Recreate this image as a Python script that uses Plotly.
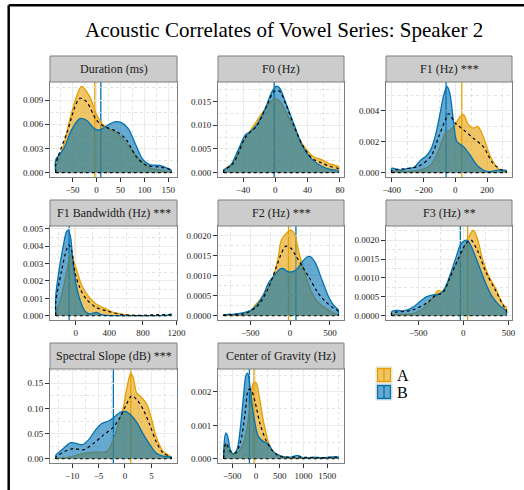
import plotly.graph_objects as go

# ---------------- data ----------------
PANEL_TITLES = ["Duration (ms)", "F0 (Hz)", "F1 (Hz) ***",
                "F1 Bandwidth (Hz) ***", "F2 (Hz) ***", "F3 (Hz) **",
                "Spectral Slope (dB) ***", "Center of Gravity (Hz)"]
GROUPS = ["A", "B"]

# Duration
DUR_A_X = [-85, -69, -52, -31, -14, 0, 14, 42, 62, 90, 111, 146, 156]
DUR_A_Y = [0.0006, 0.0033, 0.0074, 0.0107, 0.0094, 0.0072, 0.0059, 0.0049, 0.0037, 0.0016, 0.0006, 0.0002, 0.0001]
DUR_B_X = [-85, -69, -52, -35, -21, -3, 7, 21, 38, 52, 66, 83, 97, 111, 132, 146, 156]
DUR_B_Y = [0.0016, 0.0029, 0.0053, 0.0067, 0.0065, 0.0054, 0.0053, 0.0058, 0.0063, 0.0062, 0.0055, 0.0033, 0.0016, 0.0010, 0.0009, 0.0006, 0.0003]
DUR_ALL_X = [-85, -62, -35, -21, 0, 14, 42, 62, 83, 104, 132, 156]
DUR_ALL_Y = [0.0010, 0.0049, 0.0092, 0.0088, 0.0065, 0.0058, 0.0051, 0.0041, 0.0020, 0.0009, 0.0007, 0.0003]

# F0
F0_A_X = [-64, -52, -39, -29, -19, -9, -1, 5, 13, 24, 34, 46, 58, 68, 78]
F0_A_Y = [0.0004, 0.0023, 0.0066, 0.0094, 0.0119, 0.0143, 0.0156, 0.0151, 0.0129, 0.0090, 0.0059, 0.0035, 0.0027, 0.0018, 0.0013]
F0_B_X = [-64, -56, -46, -37, -31, -23, -13, -5, 1, 5, 13, 24, 34, 46, 58, 68, 78]
F0_B_Y = [0.0006, 0.0014, 0.0048, 0.0080, 0.0087, 0.0101, 0.0133, 0.0168, 0.0182, 0.0179, 0.0147, 0.0098, 0.0055, 0.0027, 0.0013, 0.0007, 0.0004]
F0_ALL_X = [-64, -52, -37, -23, -11, -1, 5, 13, 24, 34, 46, 58, 68, 78]
F0_ALL_Y = [0.0004, 0.0020, 0.0075, 0.0099, 0.0140, 0.0172, 0.0172, 0.0144, 0.0095, 0.0057, 0.0030, 0.0020, 0.0013, 0.0008]

# F1
F1_A_X = [-400, -238, -155, -104, -62, -31, 0, 31, 52, 83, 114, 141, 176, 217, 259, 300, 321]
F1_A_Y = [0.00006, 0.00013, 0.00050, 0.00147, 0.00255, 0.00276, 0.00309, 0.00363, 0.00374, 0.00309, 0.00287, 0.00298, 0.00233, 0.00114, 0.00039, 0.00006, 0.00004]
F1_B_X = [-400, -342, -300, -259, -217, -186, -155, -124, -93, -72, -52, -35, -10, 10, 52, 93, 135, 176, 217, 269, 321]
F1_B_Y = [0.00028, 0.00017, 0.00028, 0.00035, 0.00082, 0.00104, 0.00147, 0.00244, 0.00395, 0.00503, 0.00557, 0.00514, 0.00320, 0.00201, 0.00168, 0.00114, 0.00050, 0.00017, 0.00006, 0.00017, 0.00013]
F1_ALL_X = [-400, -238, -155, -104, -62, -41, 0, 52, 114, 176, 238, 300, 321]
F1_ALL_Y = [0.00013, 0.00039, 0.00104, 0.00233, 0.00341, 0.00380, 0.00320, 0.00276, 0.00222, 0.00168, 0.00060, 0.00013, 0.00009]

# F1 bandwidth
BW_A_X = [-238, -170, -111, -71, -51, -24, 16, 67, 147, 246, 345, 444, 562, 681, 879, 1137]
BW_A_Y = [0.00010, 0.00114, 0.00246, 0.00341, 0.00360, 0.00313, 0.00256, 0.00180, 0.00114, 0.00066, 0.00042, 0.00019, 0.00008, 0.00002, 0.00001, 0.00001]
BW_B_X = [-238, -198, -150, -111, -91, -63, -32, 8, 48, 107, 166, 246, 305, 404, 681, 998, 1097, 1137]
BW_B_Y = [0.00114, 0.00265, 0.00398, 0.00483, 0.00492, 0.00455, 0.00303, 0.00170, 0.00095, 0.00028, 0.00010, 0.00019, 0.00006, 0.00001, 0.00001, 0.00001, 0.00004, 0.00010]
BW_ALL_X = [-238, -170, -111, -83, -51, -12, 48, 127, 246, 364, 523, 681, 1137]
BW_ALL_Y = [0.00076, 0.00256, 0.00379, 0.00407, 0.00379, 0.00256, 0.00161, 0.00095, 0.00047, 0.00028, 0.00009, 0.00002, 0.00004]

# F2
F2_A_X = [-832, -579, -498, -437, -375, -294, -212, -151, -110, -49, 12, 53, 114, 175, 257, 339, 441, 543, 604]
F2_A_Y = [0.00001, 0.00002, 0.00011, 0.00027, 0.00040, 0.00064, 0.00097, 0.00143, 0.00188, 0.00205, 0.00213, 0.00205, 0.00155, 0.00114, 0.00064, 0.00036, 0.00019, 0.00007, 0.00002]
F2_B_X = [-832, -702, -579, -498, -416, -335, -273, -212, -131, -90, -29, 33, 94, 155, 216, 257, 318, 400, 481, 543, 604]
F2_B_Y = [0.00002, 0.00004, 0.00008, 0.00013, 0.00027, 0.00052, 0.00081, 0.00097, 0.00116, 0.00118, 0.00110, 0.00110, 0.00118, 0.00135, 0.00147, 0.00147, 0.00131, 0.00089, 0.00048, 0.00027, 0.00014]
F2_ALL_X = [-832, -579, -416, -294, -171, -110, -57, 12, 73, 155, 237, 339, 441, 543, 604]
F2_ALL_Y = [0.00002, 0.00005, 0.00023, 0.00060, 0.00122, 0.00155, 0.00173, 0.00168, 0.00149, 0.00122, 0.00096, 0.00060, 0.00036, 0.00019, 0.00011]

# F3
F3_A_X = [-794, -575, -465, -355, -282, -227, -154, -81, -7, 59, 110, 157, 212, 285, 359, 432, 476]
F3_A_Y = [0.00003, 0.00005, 0.00016, 0.00042, 0.00066, 0.00064, 0.00094, 0.00137, 0.00172, 0.00207, 0.00226, 0.00203, 0.00150, 0.00103, 0.00072, 0.00033, 0.00020]
F3_B_X = [-794, -739, -666, -575, -483, -410, -337, -264, -209, -154, -81, -26, 37, 84, 157, 249, 322, 414, 476]
F3_B_Y = [0.00011, 0.00014, 0.00013, 0.00020, 0.00037, 0.00050, 0.00055, 0.00057, 0.00072, 0.00103, 0.00155, 0.00190, 0.00200, 0.00185, 0.00142, 0.00085, 0.00050, 0.00024, 0.00013]
F3_ALL_X = [-794, -575, -410, -300, -227, -154, -62, 29, 84, 157, 249, 359, 450, 476]
F3_ALL_Y = [0.00007, 0.00014, 0.00033, 0.00055, 0.00061, 0.00098, 0.00148, 0.00191, 0.00200, 0.00172, 0.00116, 0.00066, 0.00024, 0.00016]

# Spectral slope
SS_A_X = [-13.1, -10.9, -9.1, -7.2, -5.3, -3.4, -2.2, -1.25, -0.3, 0.3, 1.1, 1.6, 2.2, 3.1, 4.1, 5.0, 5.9, 7.2, 8.75]
SS_A_Y = [0.0006, 0.0020, 0.0070, 0.0116, 0.0130, 0.0150, 0.0375, 0.0700, 0.1020, 0.1380, 0.1700, 0.1600, 0.1310, 0.1220, 0.1090, 0.0800, 0.0440, 0.0150, 0.0032]
SS_B_X = [-13.1, -11.6, -10.3, -9.4, -8.1, -6.9, -5.6, -4.4, -3.1, -1.9, -0.9, 0.0, 0.9, 2.2, 3.4, 4.7, 5.9, 7.2, 8.75]
SS_B_Y = [0.0065, 0.0210, 0.0320, 0.0310, 0.0280, 0.0375, 0.0570, 0.0700, 0.0750, 0.0840, 0.0925, 0.0940, 0.0890, 0.0730, 0.0500, 0.0280, 0.0116, 0.0050, 0.0026]
SS_ALL_X = [-13.1, -10.9, -9.7, -7.8, -5.9, -4.1, -2.2, -0.9, 0.3, 1.25, 2.2, 3.4, 4.7, 5.9, 7.2, 8.75]
SS_ALL_Y = [0.0026, 0.0170, 0.0200, 0.0180, 0.0310, 0.0470, 0.0630, 0.0830, 0.1090, 0.1250, 0.1180, 0.0990, 0.0670, 0.0340, 0.0116, 0.0026]

# Center of gravity
COG_A_X = [-680, -638, -576, -472, -368, -264, -194, -125, -56, 0, 69, 153, 257, 361, 500, 708, 1200, 1735]
COG_A_Y = [0.00002, 0.00042, 0.00022, 0.00012, 0.00022, 0.00047, 0.00087, 0.00161, 0.00226, 0.00228, 0.00186, 0.00116, 0.00052, 0.00022, 0.00009, 0.00002, 0.00002, 0.00002]
COG_B_X = [-680, -638, -597, -541, -486, -402, -333, -264, -208, -174, -125, -56, 49, 153, 257, 361, 500, 708, 881, 1020, 1194, 1402, 1575, 1735]
COG_B_Y = [0.00027, 0.00077, 0.00067, 0.00027, 0.00015, 0.00027, 0.00087, 0.00186, 0.00251, 0.00256, 0.00216, 0.00136, 0.00067, 0.00052, 0.00045, 0.00022, 0.00009, 0.00004, 0.00010, 0.00002, 0.00005, 0.00003, 0.00005, 0.00005]
COG_ALL_X = [-680, -631, -541, -437, -333, -229, -160, -111, -21, 83, 222, 361, 500, 900, 1300, 1735]
COG_ALL_Y = [0.00017, 0.00047, 0.00022, 0.00017, 0.00047, 0.00136, 0.00206, 0.00208, 0.00171, 0.00106, 0.00052, 0.00022, 0.00007, 0.00005, 0.00003, 0.00003]

# group means (vertical lines): [A, B]
MEANS = [[-3.5, 9], [0, -1.5], [41, -58], [-4, -79],
         [-20, 73], [48, -33], [1.1, -2.2], [-42, -139]]

X_DTICK = [50, 40, 200, 400, 500, 500, 5, 500]
Y_DTICK = [0.003, 0.005, 0.002, 0.001, 0.0005, 0.0005, 0.05, 0.001]
Y_FMT = [".3f", ".3f", ".3f", ".3f", ".4f", ".4f", ".2f", ".3f"]

SERIES = [
    (DUR_A_X, DUR_A_Y, DUR_B_X, DUR_B_Y, DUR_ALL_X, DUR_ALL_Y),
    (F0_A_X, F0_A_Y, F0_B_X, F0_B_Y, F0_ALL_X, F0_ALL_Y),
    (F1_A_X, F1_A_Y, F1_B_X, F1_B_Y, F1_ALL_X, F1_ALL_Y),
    (BW_A_X, BW_A_Y, BW_B_X, BW_B_Y, BW_ALL_X, BW_ALL_Y),
    (F2_A_X, F2_A_Y, F2_B_X, F2_B_Y, F2_ALL_X, F2_ALL_Y),
    (F3_A_X, F3_A_Y, F3_B_X, F3_B_Y, F3_ALL_X, F3_ALL_Y),
    (SS_A_X, SS_A_Y, SS_B_X, SS_B_Y, SS_ALL_X, SS_ALL_Y),
    (COG_A_X, COG_A_Y, COG_B_X, COG_B_Y, COG_ALL_X, COG_ALL_Y),
]

# ---------------- style / layout ----------------
W, H = 524, 490
FONT = "Liberation Serif"
COLORS = ["#E69F00", "#0072B2"]
FILLS = ["rgba(230,159,0,0.6)", "rgba(0,114,178,0.6)"]
COLS_PX = [(50, 177), (218, 344), (386, 512)]
ROWS_PX = [(82, 177), (226, 320), (369, 463)]
STRIP_H = 26


def px_x(v):
    return v / W


def px_y(v):
    return 1 - v / H


fig = go.Figure()
layout = dict(
    width=W, height=H, autosize=False,
    margin=dict(l=0, r=0, t=0, b=0, pad=0, autoexpand=False),
    paper_bgcolor="white", plot_bgcolor="white", showlegend=False,
    font=dict(family=FONT, color="#222"),
)
shapes = []
annotations = []

for i, title in enumerate(PANEL_TITLES):
    k = i + 1
    sfx = "" if k == 1 else str(k)
    r, c = divmod(i, 3)
    x0p, x1p = COLS_PX[c]
    y0p, y1p = ROWS_PX[r]
    ax_, ay_, bx_, by_, cx_, cy_ = SERIES[i]

    allx = ax_ + bx_ + cx_
    ally = ay_ + by_ + cy_
    xmin, xmax = min(allx), max(allx)
    span = xmax - xmin
    ymax = max(ally)

    common_axis = dict(
        showline=True, mirror=True, linecolor="#7F7F7F", linewidth=1,
        ticks="outside", ticklen=4, tickwidth=1, tickcolor="#333",
        showgrid=True, gridcolor="#EBEBEB", gridwidth=1, zeroline=False,
        tickfont=dict(family=FONT, size=9, color="#222"),
        tick0=0, automargin=False,
    )
    layout["xaxis" + sfx] = dict(
        common_axis, domain=[px_x(x0p), px_x(x1p)], anchor="y" + sfx,
        range=[xmin - 0.05 * span, xmax + 0.05 * span],
        dtick=X_DTICK[i],
        minor=dict(dtick=X_DTICK[i] / 2, tick0=0, showgrid=True,
                   gridcolor="#E3E3E3", griddash="dot", ticks=""),
    )
    layout["yaxis" + sfx] = dict(
        common_axis, domain=[px_y(y1p), px_y(y0p)], anchor="x" + sfx,
        range=[-0.05 * ymax, 1.05 * ymax],
        dtick=Y_DTICK[i], tickformat=Y_FMT[i],
        minor=dict(dtick=Y_DTICK[i] / 2, tick0=0, showgrid=True,
                   gridcolor="#E3E3E3", griddash="dot", ticks=""),
    )

    # group densities (A first, B on top)
    for g, (gx, gy) in enumerate([(ax_, ay_), (bx_, by_)]):
        fig.add_trace(go.Scatter(
            x=[gx[0]] + gx + [gx[-1]], y=[0] + gy + [0],
            mode="lines", line=dict(color=COLORS[g], width=1.3, shape="spline", smoothing=0.9),
            fill="tozeroy", fillcolor=FILLS[g], name=GROUPS[g],
            xaxis="x" + sfx, yaxis="y" + sfx, hoverinfo="skip",
        ))
    # overall density (dashed)
    fig.add_trace(go.Scatter(
        x=[cx_[0]] + cx_ + [cx_[-1]], y=[0] + cy_ + [0],
        mode="lines", line=dict(color="black", width=1.2, dash="3px,3px", shape="spline", smoothing=0.9),
        xaxis="x" + sfx, yaxis="y" + sfx, hoverinfo="skip",
    ))
    fig.add_trace(go.Scatter(
        x=[cx_[0], cx_[-1]], y=[0, 0],
        mode="lines", line=dict(color="black", width=1.2, dash="3px,3px"),
        xaxis="x" + sfx, yaxis="y" + sfx, hoverinfo="skip",
    ))

    # group means
    for g in range(2):
        shapes.append(dict(
            type="line", xref="x" + sfx, yref="y" + sfx + " domain",
            x0=MEANS[i][g], x1=MEANS[i][g], y0=0, y1=1,
            line=dict(color=COLORS[g], width=1.3), layer="below",
        ))

    # strip
    shapes.append(dict(
        type="rect", xref="paper", yref="paper",
        x0=px_x(x0p), x1=px_x(x1p), y0=px_y(y0p), y1=px_y(y0p - STRIP_H),
        fillcolor="#CCCCCC", line=dict(color="#7F7F7F", width=1), layer="above",
    ))
    annotations.append(dict(
        text=title, xref="paper", yref="paper",
        x=px_x((x0p + x1p) / 2), y=px_y(y0p - STRIP_H / 2),
        showarrow=False, xanchor="center", yanchor="middle",
        font=dict(family=FONT, size=12, color="#1A1A1A"),
    ))

# title
annotations.append(dict(
    text="Acoustic Correlates of Vowel Series: Speaker 2",
    xref="paper", yref="paper", x=px_x(284), y=px_y(30),
    showarrow=False, xanchor="center", yanchor="middle",
    font=dict(family=FONT, size=21, color="black"),
))

# legend (manual, ggplot-style keys)
LEG_X = 376
LEG_Y = [367, 384]
KEY = 16
for g, name in enumerate(GROUPS):
    yt = LEG_Y[g]
    shapes.append(dict(type="rect", xref="paper", yref="paper",
                       x0=px_x(LEG_X), x1=px_x(LEG_X + KEY), y0=px_y(yt + KEY), y1=px_y(yt),
                       fillcolor="white", line=dict(color="#DDDDDD", width=1)))
    shapes.append(dict(type="rect", xref="paper", yref="paper",
                       x0=px_x(LEG_X + 1.5), x1=px_x(LEG_X + KEY - 1.5),
                       y0=px_y(yt + KEY - 1.5), y1=px_y(yt + 1.5),
                       fillcolor=FILLS[g], line=dict(color=COLORS[g], width=1.3)))
    shapes.append(dict(type="line", xref="paper", yref="paper",
                       x0=px_x(LEG_X + KEY / 2), x1=px_x(LEG_X + KEY / 2),
                       y0=px_y(yt + KEY - 1.5), y1=px_y(yt + 1.5),
                       line=dict(color=COLORS[g], width=1.3)))
    annotations.append(dict(text=name, xref="paper", yref="paper",
                            x=px_x(LEG_X + KEY + 3), y=px_y(yt + KEY / 2),
                            showarrow=False, xanchor="left", yanchor="middle",
                            font=dict(family=FONT, size=16, color="black")))

# outer frame (left and top edges visible)
shapes.append(dict(type="line", xref="paper", yref="paper",
                   x0=px_x(8.7), x1=px_x(8.7), y0=px_y(5.3), y1=0,
                   line=dict(color="black", width=2.5)))
shapes.append(dict(type="line", xref="paper", yref="paper",
                   x0=px_x(8.7), x1=1, y0=px_y(5.3), y1=px_y(5.3),
                   line=dict(color="black", width=2.5)))

layout["shapes"] = shapes
layout["annotations"] = annotations
fig.update_layout(**layout)
fig.write_html(
    "out.html",
    config={"responsive": False, "displayModeBar": False, "staticPlot": True},
    post_script="document.body.style.margin='0';document.documentElement.style.overflow='hidden';",
)
